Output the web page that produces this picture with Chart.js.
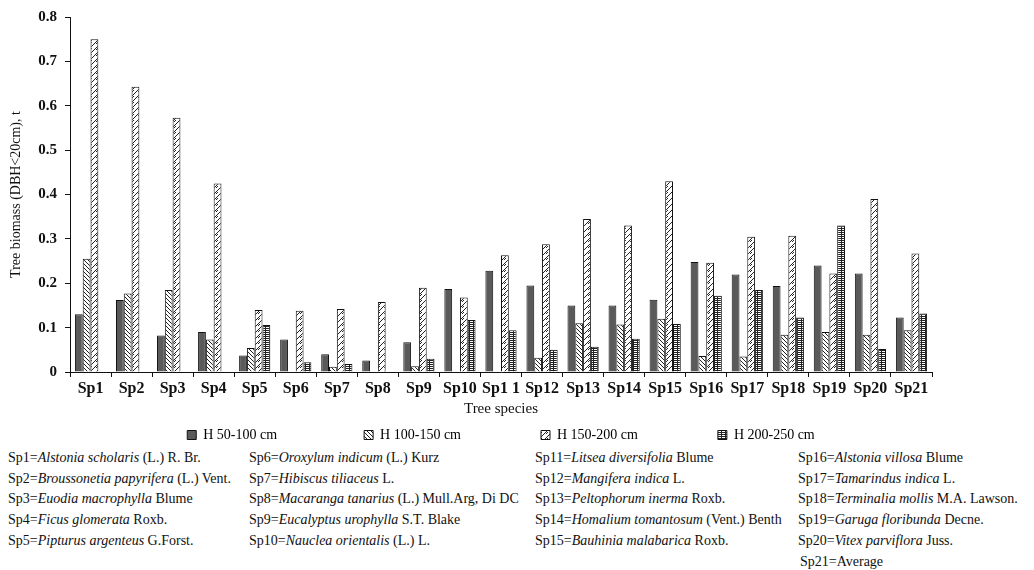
<!DOCTYPE html>
<html lang="en">
<head>
    <meta charset="UTF-8">
    <title>Tree biomass by species</title>
    <script src="https://cdn.jsdelivr.net/npm/chart.js"></script>
    <style>
        body {
            margin: 0;
            background: #fff;
            font-family: 'Liberation Serif', 'DejaVu Serif', serif;
            color: #111;
        }

        .chart-box {
            position: absolute;
            left: 0;
            top: 0;
            width: 1034px;
            height: 452px;
        }

        .notes {
            position: absolute;
            top: 450px;
            left: 0;
            width: 1034px;
            font-size: 14px;
        }

        .notes div {
            position: absolute;
            white-space: nowrap;
            line-height: 16px;
        }
    </style>
</head>
<body>
    <div class="notes" id="notes"></div>
    <div class="chart-box">
        <canvas id="biomassChart" width="1034" height="452"></canvas>
    </div>

    <script>
        // Categories and series (t)
        const species = ['Sp1', 'Sp2', 'Sp3', 'Sp4', 'Sp5', 'Sp6', 'Sp7', 'Sp8', 'Sp9', 'Sp10', 'Sp1 1',
            'Sp12', 'Sp13', 'Sp14', 'Sp15', 'Sp16', 'Sp17', 'Sp18', 'Sp19', 'Sp20', 'Sp21'];
        const h50to100 = [0.130, 0.162, 0.082, 0.090, 0.037, 0.073, 0.040, 0.026, 0.067, 0.187, 0.228,
            0.195, 0.150, 0.150, 0.163, 0.248, 0.220, 0.194, 0.240, 0.222, 0.123];
        const h100to150 = [0.255, 0.177, 0.185, 0.073, 0.054, null, 0.012, null, 0.013, null, null,
            0.032, 0.110, 0.107, 0.120, 0.036, 0.035, 0.084, 0.090, 0.084, 0.094];
        const h150to200 = [0.750, 0.643, 0.573, 0.425, 0.140, 0.138, 0.142, 0.158, 0.190, 0.168, 0.263,
            0.288, 0.345, 0.330, 0.430, 0.246, 0.305, 0.307, 0.222, 0.390, 0.267];
        const h200to250 = [null, null, null, null, 0.106, 0.022, 0.018, null, 0.030, 0.117, 0.094,
            0.050, 0.057, 0.075, 0.108, 0.172, 0.185, 0.123, 0.330, 0.052, 0.132];
        const seriesNames = ['H 50-100 cm', 'H 100-150 cm', 'H 150-200 cm', 'H 200-250 cm'];
        const yTicks = [0, 0.1, 0.2, 0.3, 0.4, 0.5, 0.6, 0.7, 0.8];

        // Species key below the chart: [text, italic part, rest]
        const notes = [
            ['Sp1=', 'Alstonia scholaris', ' (L.) R. Br.'],
            ['Sp2=', 'Broussonetia papyrifera', ' (L.) Vent.'],
            ['Sp3=', 'Euodia macrophylla', ' Blume'],
            ['Sp4=', 'Ficus glomerata', ' Roxb.'],
            ['Sp5=', 'Pipturus argenteus', ' G.Forst.'],
            ['Sp6=', 'Oroxylum indicum', ' (L.) Kurz'],
            ['Sp7=', 'Hibiscus tiliaceus', ' L.'],
            ['Sp8=', 'Macaranga tanarius', ' (L.) Mull.Arg, Di DC'],
            ['Sp9=', 'Eucalyptus urophylla', ' S.T. Blake'],
            ['Sp10=', 'Nauclea orientalis', ' (L.) L.'],
            ['Sp11=', 'Litsea diversifolia', ' Blume'],
            ['Sp12=', 'Mangifera indica', ' L.'],
            ['Sp13=', 'Peltophorum inerma', ' Roxb.'],
            ['Sp14=', 'Homalium tomantosum', ' (Vent.) Benth'],
            ['Sp15=', 'Bauhinia malabarica', ' Roxb.'],
            ['Sp16=', 'Alstonia villosa', ' Blume'],
            ['Sp17=', 'Tamarindus indica', ' L.'],
            ['Sp18=', 'Terminalia mollis', ' M.A. Lawson.'],
            ['Sp19=', 'Garuga floribunda', ' Decne.'],
            ['Sp20=', 'Vitex parviflora', ' Juss.'],
            ['Sp21=Average', '', '']
        ];

        // hatch patterns
        function makePattern(kind) {
            const c = document.createElement('canvas');
            const s = kind === 'zig' ? 6 : 4;
            c.width = s; c.height = s;
            const g = c.getContext('2d');
            g.fillStyle = '#fff';
            g.fillRect(0, 0, s, s);
            g.strokeStyle = '#222';
            g.lineWidth = 1;
            g.beginPath();
            if (kind === 'back') {
                g.moveTo(0, 0); g.lineTo(s, s);
                g.moveTo(-1, s - 1); g.lineTo(1, s + 1);
                g.moveTo(s - 1, -1); g.lineTo(s + 1, 1);
            } else if (kind === 'zig') {
                g.moveTo(0, s); g.lineTo(s, 0);
                g.moveTo(0, 2); g.lineTo(2, 0);
            } else {
                g.moveTo(0, 0.5); g.lineTo(s, 0.5);
                g.moveTo(0, 2.5); g.lineTo(s, 2.5);
                g.moveTo(1.5, 0); g.lineTo(1.5, s);
            }
            g.stroke();
            return g.createPattern(c, 'repeat');
        }

        const fills = ['#5a5a5a', makePattern('back'), makePattern('zig'), makePattern('grid')];
        const values = [h50to100, h100to150, h150to200, h200to250];

        const serif = "'Liberation Serif', 'DejaVu Serif', serif";
        const legendFont = { family: serif, size: 14 };

        new Chart(document.getElementById('biomassChart'), {
            type: 'bar',
            data: {
                labels: species,
                datasets: values.map((v, i) => ({
                    label: seriesNames[i],
                    data: v,
                    backgroundColor: fills[i],
                    borderColor: '#111',
                    borderWidth: 1,
                    categoryPercentage: 0.76,
                    barPercentage: 1.0
                }))
            },
            options: {
                responsive: false,
                animation: false,
                layout: { padding: { top: 14, right: 102, left: 0, bottom: 0 } },
                plugins: {
                    tooltip: { enabled: false },
                    legend: {
                        position: 'bottom',
                        fullSize: false,
                        labels: {
                            boxWidth: 9,
                            boxHeight: 9,
                            padding: 10,
                            color: '#111',
                            font: legendFont,
                            generateLabels(chart) {
                                const ctx = chart.ctx;
                                ctx.font = legendFont.size + 'px ' + serif;
                                const n = chart.data.datasets.length;
                                return chart.data.datasets.map((d, i) => {
                                    let text = d.label;
                                    // pad so that items sit ~180px apart
                                    if (i < n - 1) {
                                        while (ctx.measureText(text + ' ').width < 154) text += ' ';
                                    }
                                    return {
                                        text,
                                        fillStyle: d.backgroundColor,
                                        strokeStyle: '#111',
                                        lineWidth: 1,
                                        datasetIndex: i
                                    };
                                });
                            }
                        }
                    }
                },
                scales: {
                    x: {
                        grid: { display: true, drawOnChartArea: false, offset: true, color: '#111', tickLength: 5 },
                        border: { color: '#111', width: 1 },
                        ticks: { color: '#111', font: { family: serif, size: 16, weight: 'bold' }, padding: 2, maxRotation: 0, minRotation: 0, autoSkip: false },
                        title: { display: true, text: 'Tree species', color: '#111', font: { family: serif, size: 15 }, padding: { top: 0, bottom: 0 } },
                        afterFit(scale) { scale.height = 46; }
                    },
                    y: {
                        min: 0,
                        max: 0.8,
                        afterBuildTicks(scale) { scale.ticks = yTicks.map(v => ({ value: v })); },
                        grid: { display: true, drawOnChartArea: false, color: '#111', tickLength: 5 },
                        border: { color: '#111', width: 1 },
                        ticks: { color: '#111', font: { family: serif, size: 15, weight: 'bold' }, padding: 8 },
                        title: { display: true, text: 'Tree biomass (DBH<20cm), t', color: '#111', font: { family: serif, size: 14 }, padding: { top: 8, bottom: 0 } },
                        afterFit(scale) { scale.width = 70; }
                    }
                }
            }
        });

        // species key
        const colX = [8, 249, 535, 798];
        const notesEl = document.getElementById('notes');
        notes.forEach((n, i) => {
            const col = Math.min(Math.floor(i / 5), 3);
            const row = i < 20 ? i % 5 : 5;
            const el = document.createElement('div');
            el.style.left = (i === 20 ? 800 : colX[col]) + 'px';
            el.style.top = (row * 20.7) + 'px';
            el.innerHTML = n[0] + (n[1] ? '<i>' + n[1] + '</i>' : '') + n[2];
            notesEl.appendChild(el);
        });
    </script>
</body>
</html>
